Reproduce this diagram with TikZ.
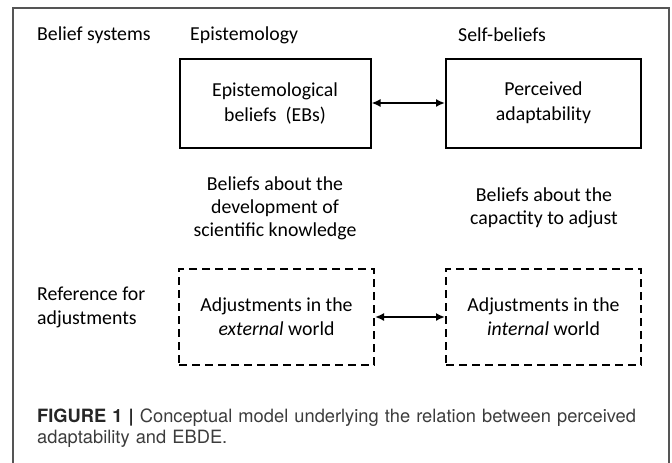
\documentclass[tikz,border=0pt]{standalone}
\usepackage{fontspec}
\setmainfont{Carlito}
\newfontfamily\capfont{TeX Gyre Heros}
\usetikzlibrary{arrows.meta}
\definecolor{capgray}{HTML}{3C3C3C}
\definecolor{framegray}{HTML}{555555}
\tikzset{
  lbl/.style={font=\fontsize{19.8}{24}\selectfont, inner sep=0pt, align=left},
  ctxt/.style={font=\fontsize{19.8}{23}\selectfont, inner sep=0pt, align=center},
  solidbox/.style={draw=black, line width=2pt, minimum height=89pt, inner sep=0pt, align=center, font=\fontsize{19.8}{25}\selectfont},
  dashbox/.style={draw=black, line width=2pt, dash pattern=on 8pt off 5pt, minimum height=96pt, inner sep=0pt, align=center, font=\fontsize{19.8}{24}\selectfont},
  biarrow/.style={line width=1.7pt, {Latex[length=9pt,width=8pt]}-{Latex[length=9pt,width=8pt]}}
}
\begin{document}
\begin{tikzpicture}[x=1pt,y=-1pt]
\useasboundingbox (0,0) rectangle (672,463);
% outer frame (no bottom edge)
\draw[framegray, line width=1.4pt] (13,470) -- (13,8) -- (669,8) -- (669,470);
% header labels
\node[lbl, anchor=west] (bs) at (37,35) {Belief systems};
\node[lbl, anchor=west] (ep) at (190,35) {Epistemology};
\node[lbl, anchor=west] (sb) at (458,35) {Self-beliefs};
% solid boxes
\node[solidbox, minimum width=191pt] (eb) at (275,103) {Epistemological\\beliefs\ \ (EBs)};
\node[solidbox, minimum width=195pt] (pa) at (543.5,103) {Perceived\\adaptability};
\draw[biarrow] (eb.east) -- (pa.west);
% middle descriptions
\node[ctxt] (d1) at (275,208) {Beliefs about the\\development of\\scientific knowledge};
\node[ctxt] (d2) at (544,208) {Beliefs about the\\capactity to adjust};
% reference label
\node[lbl, anchor=west] (ref) at (37,307) {Reference for\\adjustments};
% dashed boxes
\node[dashbox, minimum width=195pt] (ex) at (276.5,317) {Adjustments in the\\\textit{external} world};
\node[dashbox, minimum width=195pt] (in) at (543.5,317) {Adjustments in the\\\textit{internal} world};
\draw[biarrow] (ex.east) -- (in.west);
% caption
\node[anchor=north west, inner sep=0pt, align=left, text width=630pt, font=\capfont\fontsize{18.3}{20.5}\selectfont, text=capgray] (cap) at (37,409)
{\textbf{\color{black!85}FIGURE 1 |} Conceptual model underlying the relation between perceived\\adaptability and EBDE.};
\end{tikzpicture}
\end{document}
